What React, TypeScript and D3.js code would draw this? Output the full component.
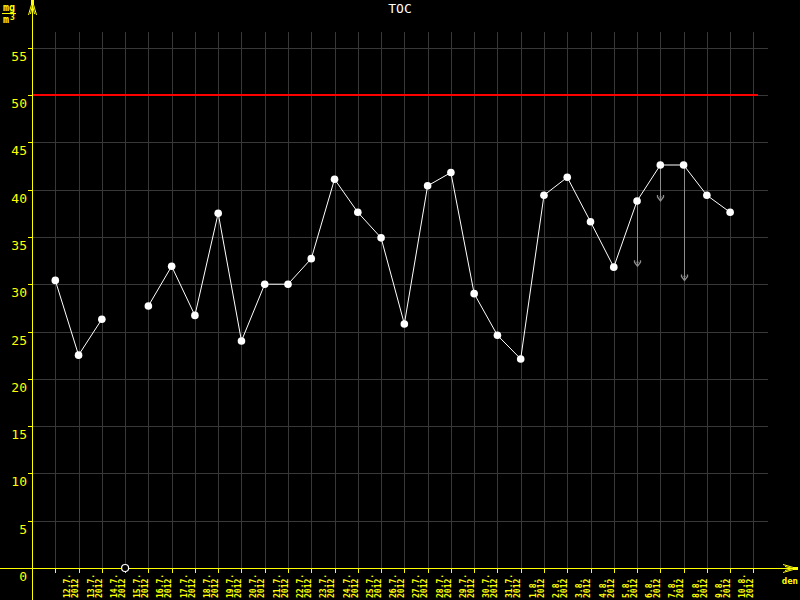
import React from 'react';
import * as d3 from 'd3';

const title = 'TOC';
const days = [
  '12.7.', '13.7.', '14.7.', '15.7.', '16.7.', '17.7.', '18.7.', '19.7.', '20.7.', '21.7.',
  '22.7.', '23.7.', '24.7.', '25.7.', '26.7.', '27.7.', '28.7.', '29.7.', '30.7.', '31.7.',
  '1.8.', '2.8.', '3.8.', '4.8.', '5.8.', '6.8.', '7.8.', '8.8.', '9.8.', '10.8.',
];
const year = '2012';
// null = no measurement that day
const values: (number | null)[] = [
  30.4, 22.5, 26.3, null, 27.7, 31.9, 26.7, 37.5, 24.0, 30.0,
  30.0, 32.7, 41.1, 37.6, 34.9, 25.8, 40.4, 41.8, 29.0, 24.6,
  22.1, 39.4, 41.3, 36.6, 31.8, 38.8, 42.6, 42.6, 39.4, 37.6,
];
// daily minimum where it differs from the value shown
const minimums: { day: string; min: number }[] = [
  { day: '6.8.', min: 31.9 },
  { day: '7.8.', min: 38.8 },
  { day: '8.8.', min: 30.4 },
];
const limit = 50;
const yTicks = [0, 5, 10, 15, 20, 25, 30, 35, 40, 45, 50, 55];

const width = 800;
const height = 600;
const axisX = 32;
const axisY = 568;
const yellow = '#ffff00';
const grid = '#383838';
const mono = '"DejaVu Sans Mono", "Liberation Mono", monospace';

const App = () => {
  const x = d3.scaleLinear().domain([0, days.length]).range([55.3, 753.4]);
  const y = d3.scaleLinear().domain([0, 55]).range([axisY, 47.7]);

  const pts = values.map((v, i) => ({ i, v }));
  const line = d3.line<{ i: number; v: number | null }>()
    .defined(d => d.v !== null)
    .x(d => x(d.i))
    .y(d => y(d.v as number));

  const tickIdx = d3.range(days.length + 1);

  return (
    <svg width={width} height={height} style={{ position: 'absolute', left: 0, top: 0, background: '#000' }}>
      <rect width={width} height={height} fill="#000" />
      {/* grid */}
      {yTicks.filter(t => t > 0).map(t => (
        <line key={'h' + t} x1={axisX} x2={768} y1={Math.round(y(t)) + 0.5} y2={Math.round(y(t)) + 0.5} stroke={grid} />
      ))}
      {tickIdx.map(i => (
        <line key={'v' + i} x1={Math.round(x(i)) + 0.5} x2={Math.round(x(i)) + 0.5} y1={32} y2={axisY} stroke={grid} />
      ))}
      {/* limit */}
      <line x1={axisX} x2={758} y1={y(limit)} y2={y(limit)} stroke="#ff0000" strokeWidth={2} />

      {/* minimum arrows */}
      {minimums.map(m => {
        const i = days.indexOf(m.day);
        const cx = Math.round(x(i)) + 0.5;
        const y0 = y(values[i] as number);
        const y1 = y(m.min);
        return (
          <g key={m.day} stroke="#8c8c8c" fill="none">
            <line x1={cx} x2={cx} y1={y0} y2={y1} />
            <path d={`M${cx - 3},${y1 - 6}L${cx - 3},${y1 - 4}L${cx},${y1}L${cx + 3},${y1 - 4}L${cx + 3},${y1 - 6}M${cx - 1},${y1 - 4}L${cx + 1},${y1 - 4}`} strokeWidth={1.3} />
          </g>
        );
      })}

      {/* data */}
      <path d={line(pts) || ''} fill="none" stroke="#fff" strokeWidth={1} />
      {pts.filter(d => d.v !== null).map(d => (
        <circle key={d.i} cx={x(d.i)} cy={y(d.v as number)} r={3.8} fill="#fff" />
      ))}

      {/* axes */}
      <line x1={axisX + 0.5} x2={axisX + 0.5} y1={0} y2={height} stroke={yellow} />
      <line x1={0} x2={796} y1={axisY + 0.5} y2={axisY + 0.5} stroke={yellow} />
      <path d={`M${axisX + 0.5},1L${axisX - 3.5},15M${axisX + 0.5},1L${axisX + 4.5},15M${axisX + 0.5},5L${axisX - 1.5},14M${axisX + 0.5},5L${axisX + 2.5},14`} stroke={yellow} fill="none" />
      <rect x={axisX - 1} y={0} width={3} height={5} fill={yellow} />
      <path d={`M797,${axisY + 0.5}L783,${axisY - 3.5}M797,${axisY + 0.5}L783,${axisY + 4.5}M793,${axisY + 0.5}L785,${axisY - 1.5}M793,${axisY + 0.5}L785,${axisY + 2.5}`} stroke={yellow} fill="none" />
      <rect x={793} y={axisY - 1} width={5} height={3} fill={yellow} />

      {yTicks.map(t => (
        <g key={'yt' + t}>
          <line x1={axisX - 4} x2={axisX} y1={Math.round(y(t)) + 0.5} y2={Math.round(y(t)) + 0.5} stroke={yellow} />
          <text x={27} y={y(t) + 13} textAnchor="end" fill={yellow} fontFamily={mono} fontSize={13}>{t}</text>
        </g>
      ))}
      {tickIdx.map(i => (
        <line key={'xt' + i} x1={Math.round(x(i)) + 0.5} x2={Math.round(x(i)) + 0.5} y1={axisY} y2={axisY + 5} stroke={yellow} />
      ))}
      {days.map((d, i) => {
        const tx = Math.round(x(i));
        return (
          <g key={'xl' + d} fill={yellow} fontFamily={mono} fontSize={8} fontWeight="bold">
            <text transform={`translate(${tx + 15},598) rotate(-90)`}>{d}</text>
            <text transform={`translate(${tx + 23},598) rotate(-90)`}>{year}</text>
          </g>
        );
      })}

      {/* missing value marker */}
      <circle cx={x(3)} cy={axisY} r={3.5} fill="#000" stroke="#fff" strokeWidth={1.2} />

      <text x={798} y={584} textAnchor="end" fill={yellow} fontFamily={mono} fontSize={9} fontWeight="bold">den</text>
      <text x={400} y={13} textAnchor="middle" fill="#fff" fontFamily={mono} fontSize={13}>{title}</text>

      {/* unit */}
      <g fill={yellow} fontFamily={mono} fontSize={10} fontWeight="bold">
        <text x={3} y={11}>mg</text>
        <line x1={2} x2={16} y1={13.5} y2={13.5} stroke={yellow} />
        <text x={3} y={23}>m</text>
        <text x={10} y={20} fontSize={8}>3</text>
      </g>
    </svg>
  );
};

export default App;
